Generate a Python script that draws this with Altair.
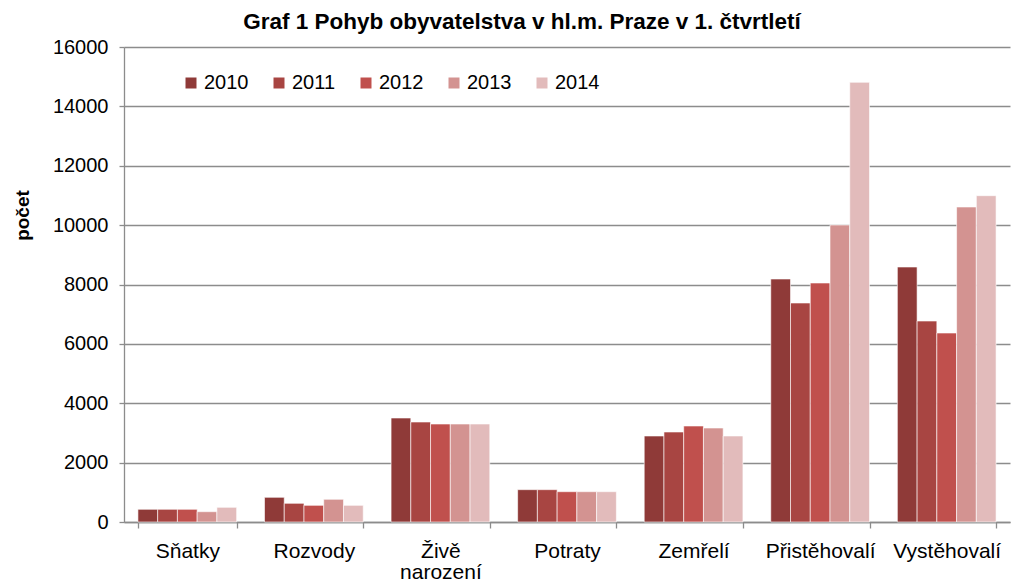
import altair as alt
import pandas as pd

categories = ["Sňatky", "Rozvody", "Živě narození", "Potraty", "Zemřelí", "Přistěhovalí", "Vystěhovalí"]
years = ["2010", "2011", "2012", "2013", "2014"]
v2010 = [428, 832, 3503, 1089, 2897, 8185, 8589]
v2011 = [428, 630, 3368, 1089, 3032, 7377, 6770]
v2012 = [428, 562, 3301, 1021, 3234, 8051, 6366]
v2013 = [347, 765, 3301, 1021, 3166, 10004, 10611]
v2014 = [495, 562, 3301, 1021, 2897, 14811, 10992]
colors = ["#8f3a38", "#a84542", "#c0504d", "#d39391", "#e2bbbb"]
y_ticks = [0, 2000, 4000, 6000, 8000, 10000, 12000, 14000, 16000]

series = [v2010, v2011, v2012, v2013, v2014]
rows = []
for yr, vals in zip(years, series):
    for c, v in zip(categories, vals):
        rows.append({"kategorie": c, "rok": yr, "pocet": v})
df = pd.DataFrame(rows)

FONT = "Liberation Sans"
GRID = "#8c8c8c"

chart = alt.Chart(df).mark_bar(stroke="white", strokeWidth=0.6).encode(
    x=alt.X(
        "kategorie:N",
        sort=categories,
        scale=alt.Scale(paddingInner=0.22, paddingOuter=0.11),
        axis=alt.Axis(
            title=None,
            labelAngle=0,
            tickBand="extent",
            labelExpr="datum.value == 'Živě narození' ? ['Živě', 'narození'] : datum.value",
            labelFont=FONT,
            labelFontSize=21,
            labelColor="black",
            labelPadding=12,
            labelLineHeight=21,
            labelLimit=300,
            labelOverlap=False,
            labelBaseline="top",
            tickSize=6,
            tickColor=GRID,
            tickWidth=1.3,
            domainColor=GRID,
            domainWidth=1.3,
            grid=False,
        ),
    ),
    xOffset=alt.XOffset("rok:N", sort=years, scale=alt.Scale(paddingInner=0, paddingOuter=0)),
    y=alt.Y(
        "pocet:Q",
        scale=alt.Scale(domain=[0, 16000], nice=False),
        axis=alt.Axis(
            values=y_ticks,
            format="d",
            title="počet",
            titleFont=FONT,
            titleFontSize=19,
            titleFontWeight="bold",
            titleColor="black",
            titleAngle=-90,
            titleX=-96,
            titleY=168,
            titleAlign="center",
            titleBaseline="alphabetic",
            labelFont=FONT,
            labelFontSize=20,
            labelColor="black",
            labelPadding=11,
            tickSize=5,
            tickColor=GRID,
            tickWidth=1.3,
            domainColor=GRID,
            domainWidth=1.3,
            grid=True,
            gridColor=GRID,
            gridWidth=1.3,
        ),
    ),
    color=alt.Color(
        "rok:N",
        sort=years,
        scale=alt.Scale(domain=years, range=colors),
        legend=alt.Legend(
            title=None,
            orient="none",
            direction="horizontal",
            legendX=57,
            legendY=26,
            symbolType="square",
            symbolSize=121,
            symbolStrokeWidth=0,
            labelFont=FONT,
            labelFontSize=20,
            labelColor="black",
            labelOffset=3,
            columnPadding=20,
            padding=0,
        ),
    ),
).properties(
    width=886,
    height=475,
    title=alt.TitleParams(
        text="Graf 1 Pohyb obyvatelstva v hl.m. Praze v 1. čtvrtletí",
        font=FONT,
        fontSize=22.5,
        fontWeight="bold",
        color="black",
        anchor="middle",
        frame="group",
        baseline="alphabetic",
        dx=-45,
        dy=20,
        offset=6,
    ),
    autosize=alt.AutoSizeParams(type="none"),
    padding={"left": 116, "top": 39, "right": 1, "bottom": 60},
).configure_view(stroke=None)

chart.save("out.html", embed_options={"renderer": "svg", "actions": False})
